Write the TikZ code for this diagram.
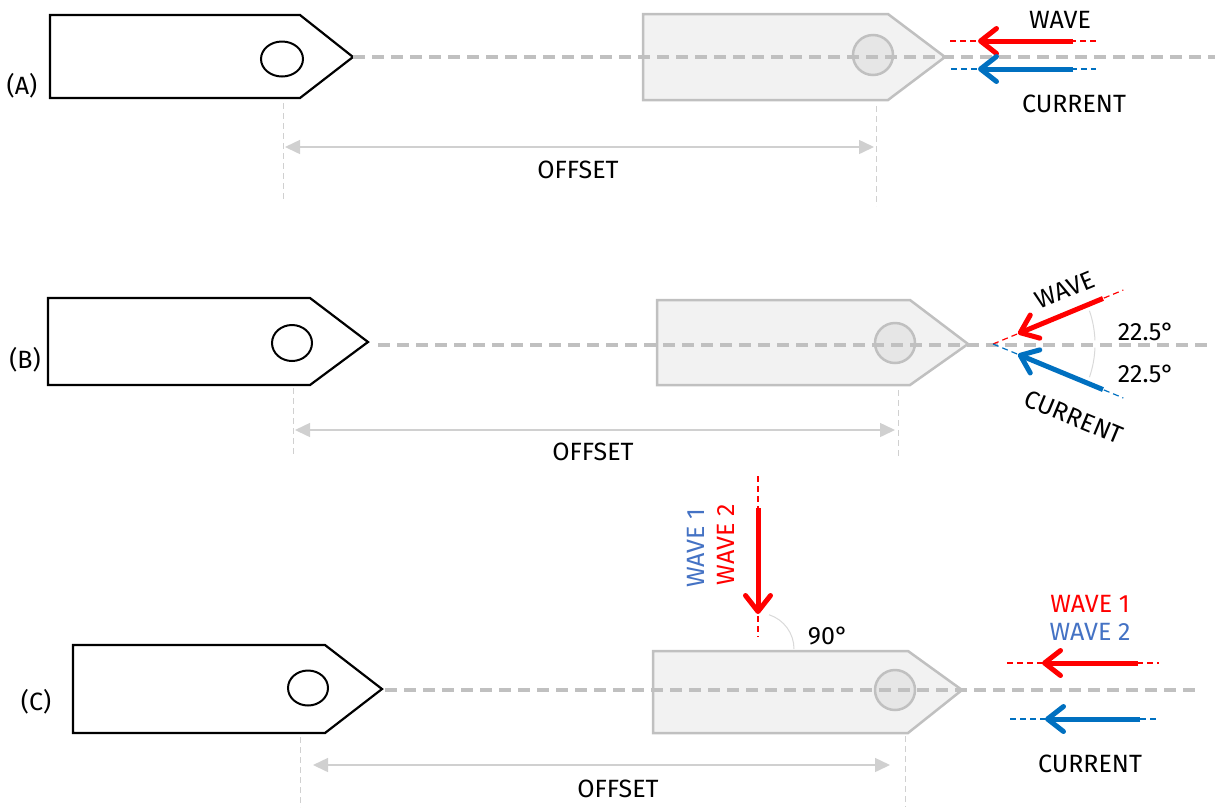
\documentclass[tikz,border=0pt]{standalone}
\usepackage{fontspec}
\setmainfont{Fira Sans}
\usetikzlibrary{arrows.meta,shapes.geometric}
\definecolor{wred}{HTML}{FF0000}
\definecolor{wblue}{HTML}{0070C0}
\definecolor{lblue}{HTML}{4472C4}
\definecolor{cgray}{HTML}{C0C0C0}
\definecolor{dgray}{HTML}{D0D0D0}
\definecolor{gfill}{HTML}{F2F2F2}
\definecolor{gcirc}{HTML}{E6E6E6}
\definecolor{arcgray}{HTML}{D9D9D9}
\tikzset{
  lbl/.style={font=\fontsize{25}{28}\selectfont, inner sep=0pt},
  boat/.style={draw=black, line width=2.2pt, fill=white, line join=miter},
  ghost/.style={draw=cgray, fill=gfill, line width=2.5pt, line join=miter},
  ghostcirc/.style={draw=cgray, fill=gcirc, line width=2.5pt},
  centerline/.style={draw=cgray, line width=3.5pt, dash pattern=on 12pt off 7pt},
  extline/.style={draw=dgray, line width=1pt, dash pattern=on 6pt off 4pt},
  dimline/.style={draw=dgray, line width=1.5pt, {Triangle[length=15pt,width=14pt]}-{Triangle[length=15pt,width=14pt]}},
  thinext/.style={line width=1.2pt, dash pattern=on 6pt off 4pt},
  flow/.style={line width=5pt, -{Straight Barb[length=16pt,width=25pt,line cap=round,line join=round]}},
  anglearc/.style={draw=arcgray, line width=1pt}
}
\begin{document}
\begin{tikzpicture}[x=1pt,y=-1pt]
\useasboundingbox (0,0) rectangle (1215,807);

%% ---------------- Panel A ----------------
\node[lbl] (labA) at (22,86) {(A)};
% ghost boat
\draw[ghost] (643,14) -- (888,14) -- (945,57) -- (888,100) -- (643,100) -- cycle;
\node[ghostcirc, circle, minimum size=40pt, inner sep=0pt] (gcA) at (873,55) {};
% boat 1
\draw[boat] (50,15) -- (300,15) -- (353,57) -- (300,98) -- (50,98) -- cycle;
\node[boat, ellipse, minimum width=42pt, minimum height=35pt, inner sep=0pt, line width=2pt] (cA) at (282,59) {};
% centre line
\coordinate (tipA) at (353,57);
\coordinate (endA) at (1215,57);
\draw[centerline] (tipA) -- (endA);
% extension lines
\coordinate (eA1t) at (283,103); \coordinate (eA1b) at (283,200);
\coordinate (eA2t) at (876,106); \coordinate (eA2b) at (876,206);
\draw[extline] (eA1t) -- (eA1b);
\draw[extline] (eA2t) -- (eA2b);
\coordinate (dA1) at (285,147); \coordinate (dA2) at (874,147);
\draw[dimline] (dA1) -- (dA2);
\node[lbl] (offA) at (578,170) {OFFSET};
% wave / current
\coordinate (wAd1) at (950,41); \coordinate (wAd2) at (1097,41);
\coordinate (wAs) at (1073,41); \coordinate (wAt) at (978,41);
\draw[wred, thinext] (wAd1) -- (wAd2);
\draw[wred, flow] (wAs) -- (wAt);
\coordinate (cAd1) at (951,69); \coordinate (cAd2) at (1096,69);
\coordinate (cAs) at (1073,69); \coordinate (cAt) at (978,69);
\draw[wblue, thinext] (cAd1) -- (cAd2);
\draw[wblue, flow] (cAs) -- (cAt);
\node[lbl] (wavA) at (1060,20) {WAVE};
\node[lbl] (curA) at (1074,104) {CURRENT};

%% ---------------- Panel B ----------------
\node[lbl] (labB) at (25,360) {(B)};
\draw[ghost] (657,300) -- (910,300) -- (968,344) -- (910,385) -- (657,385) -- cycle;
\node[ghostcirc, circle, minimum size=40pt, inner sep=0pt] (gcB) at (895,343) {};
\draw[boat] (48,298) -- (310,298) -- (368,342) -- (310,385) -- (48,385) -- cycle;
\node[boat, ellipse, minimum width=40pt, minimum height=36pt, inner sep=0pt, line width=2pt] (cB) at (292,343) {};
\coordinate (tipB) at (378,345);
\coordinate (endB) at (1212,345);
\draw[centerline] (tipB) -- (endB);
\coordinate (eB1t) at (293,388); \coordinate (eB1b) at (293,456);
\coordinate (eB2t) at (898,390); \coordinate (eB2b) at (898,456);
\draw[extline] (eB1t) -- (eB1b);
\draw[extline] (eB2t) -- (eB2b);
\coordinate (dB1) at (295,430); \coordinate (dB2) at (895,430);
\draw[dimline] (dB1) -- (dB2);
\node[lbl] (offB) at (593,452) {OFFSET};
% angled arrows
\coordinate (bO) at (993,344);
\coordinate (wBd) at ([shift={(-22.5:141)}]bO);
\coordinate (wBs) at ([shift={(-22.5:119)}]bO);
\coordinate (wBt) at ([shift={(-22.5:27)}]bO);
\coordinate (cBd) at ([shift={(22.5:141)}]bO);
\coordinate (cBs) at ([shift={(22.5:119)}]bO);
\coordinate (cBt) at ([shift={(22.5:27)}]bO);
\draw[wred, thinext] (bO) -- (wBd);
\draw[wred, flow] (wBs) -- (wBt);
\draw[wblue, thinext] (bO) -- (cBd);
\draw[wblue, flow] (cBs) -- (cBt);
\draw[anglearc] ([shift={(-19:102)}]bO) arc[start angle=-19, end angle=-2, radius=102];
\draw[anglearc] ([shift={(2:102)}]bO) arc[start angle=2, end angle=19, radius=102];
\node[lbl, rotate=22.5] (wavB) at (1065,290) {WAVE};
\node[lbl, rotate=-22.5] (curB) at (1074,417) {CURRENT};
\node[lbl] (angB1) at (1146,332) {22.5°};
\node[lbl] (angB2) at (1146,374) {22.5°};

%% ---------------- Panel C ----------------
\node[lbl] (labC) at (36,702) {(C)};
\draw[ghost] (653,651) -- (908,651) -- (962,690) -- (908,733) -- (653,733) -- cycle;
\node[ghostcirc, circle, minimum size=40pt, inner sep=0pt] (gcC) at (895,690) {};
\draw[boat] (73,645) -- (325,645) -- (382,689) -- (325,733) -- (73,733) -- cycle;
\node[boat, ellipse, minimum width=40pt, minimum height=35pt, inner sep=0pt, line width=2pt] (cC) at (308,688) {};
\coordinate (tipC) at (385,690);
\coordinate (endC) at (1200,690);
\draw[centerline] (tipC) -- (endC);
\coordinate (eC1t) at (300,737); \coordinate (eC1b) at (300,807);
\coordinate (eC2t) at (905,736); \coordinate (eC2b) at (905,807);
\draw[extline] (eC1t) -- (eC1b);
\draw[extline] (eC2t) -- (eC2b);
\coordinate (dC1) at (313,765); \coordinate (dC2) at (890,765);
\draw[dimline] (dC1) -- (dC2);
\node[lbl] (offC) at (618,789) {OFFSET};
% vertical wave
\coordinate (vd1) at (758,476); \coordinate (vd2) at (758,637);
\coordinate (vs) at (758,508); \coordinate (vt) at (758,614);
\draw[wred, thinext] (vd1) -- (vd2);
\draw[wred, flow] (vs) -- (vt);
\coordinate (vO) at (758,649);
\draw[anglearc] ([shift={(-72:36)}]vO) arc[start angle=-72, end angle=0, radius=36];
\node[lbl] (ang90) at (828,636) {90°};
\node[lbl, rotate=90, text=lblue] (w1v) at (696,548) {WAVE 1};
\node[lbl, rotate=90, text=wred] (w2v) at (726,545) {WAVE 2};
% right arrows
\node[lbl, text=wred] (w1r) at (1090,604) {WAVE 1};
\node[lbl, text=lblue] (w2r) at (1090,632) {WAVE 2};
\coordinate (wCd1) at (1007,663); \coordinate (wCd2) at (1159,663);
\coordinate (wCs) at (1138,663); \coordinate (wCt) at (1042,663);
\draw[wred, thinext] (wCd1) -- (wCd2);
\draw[wred, flow] (wCs) -- (wCt);
\coordinate (cCd1) at (1010,719); \coordinate (cCd2) at (1156,719);
\coordinate (cCs) at (1140,719); \coordinate (cCt) at (1045,719);
\draw[wblue, thinext] (cCd1) -- (cCd2);
\draw[wblue, flow] (cCs) -- (cCt);
\node[lbl] (curC) at (1090,764) {CURRENT};
\end{tikzpicture}
\end{document}
